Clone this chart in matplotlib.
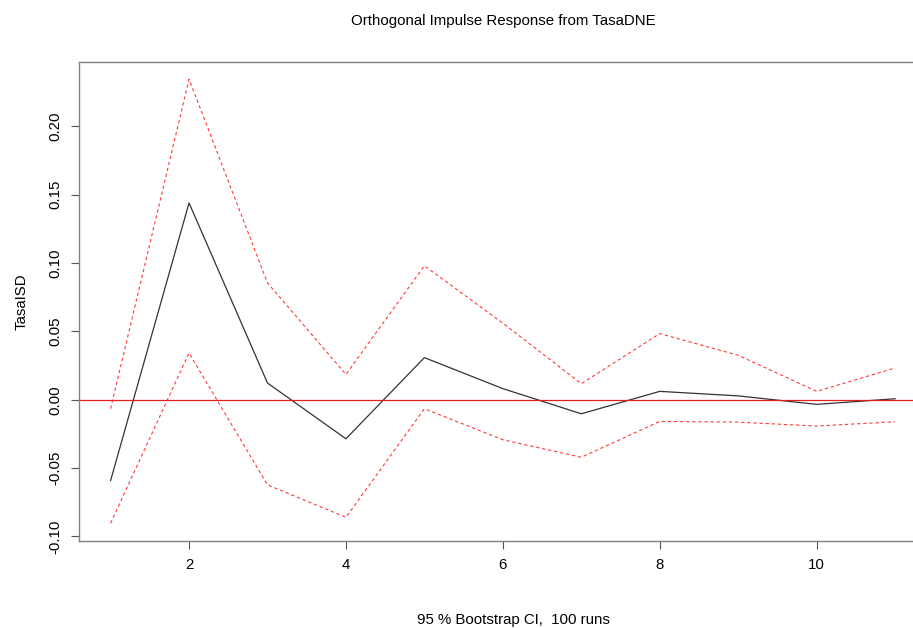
import numpy as np
import matplotlib
matplotlib.use('Agg')
import matplotlib.pyplot as plt

# --------------------- data ---------------------
steps = [1, 2, 3, 4, 5, 6, 7, 8, 9, 10, 11]
irf = [-0.0592, 0.1440, 0.0122, -0.0286, 0.0308, 0.0081, -0.0103, 0.0061, 0.0028, -0.0034, 0.0007]
upper = [-0.0066, 0.2345, 0.0855, 0.0185, 0.0980, 0.0560, 0.0117, 0.0484, 0.0325, 0.0061, 0.0232]
lower = [-0.0904, 0.0342, -0.0623, -0.0861, -0.0066, -0.0293, -0.0421, -0.0159, -0.0164, -0.0193, -0.0161]

y_ticks = [-0.10, -0.05, 0.00, 0.05, 0.10, 0.15, 0.20]
x_ticks = [2, 4, 6, 8, 10]

plt.rcParams['font.family'] = ['Liberation Sans', 'DejaVu Sans']

W, H = 913, 628
fig = plt.figure(figsize=(W / 100, H / 100), dpi=100)

# plot box (right edge is cut off by the image border, as in the reference)
left, right, top, bottom = 79.2, 926.5, 61.5, 541.0
ax = fig.add_axes([left / W, 1 - bottom / H, (right - left) / W, (bottom - top) / H])

ax.plot(steps, irf, color='#333333', lw=0.9)
ax.plot(steps, upper, color='#ff3b3b', lw=0.8, ls=(0, (3, 2.5)))
ax.plot(steps, lower, color='#ff3b3b', lw=0.8, ls=(0, (3, 2.5)))
ax.axhline(0, color='#e02020', lw=0.9)

# R style axis extension (4 %)
xr = max(steps) - min(steps)
ax.set_xlim(min(steps) - 0.04 * xr, max(steps) + 0.04 * xr)
ymin = min(min(lower), min(irf))
ymax = max(max(upper), max(irf))
yr = ymax - ymin
ax.set_ylim(ymin - 0.04 * yr, ymax + 0.04 * yr)

ax.set_xticks(x_ticks)
ax.set_xticklabels([str(t) for t in x_ticks])
ax.set_yticks(y_ticks)
ax.set_yticklabels([f'{t:.2f}' for t in y_ticks], rotation=90, va='center')

ax.tick_params(axis='both', direction='out', length=6, width=0.8, color='#555555',
               labelsize=10.8, pad=6)
for side in ['left', 'bottom', 'top']:
    ax.spines[side].set_color('#808080')
    ax.spines[side].set_linewidth(1.0)
ax.spines['right'].set_visible(False)

ax.set_ylabel('TasaISD', fontsize=10.8, labelpad=14)
ax.set_title('Orthogonal Impulse Response from TasaDNE', fontsize=10.8, pad=0,
             x=(503 - left) / (right - left), y=1 + 36 / (bottom - top))

fig.text(513 / W, 1 - 620 / H, '95 % Bootstrap CI,  100 runs', ha='center', va='center',
         fontsize=10.8)

plt.savefig('out.png', dpi=100)
